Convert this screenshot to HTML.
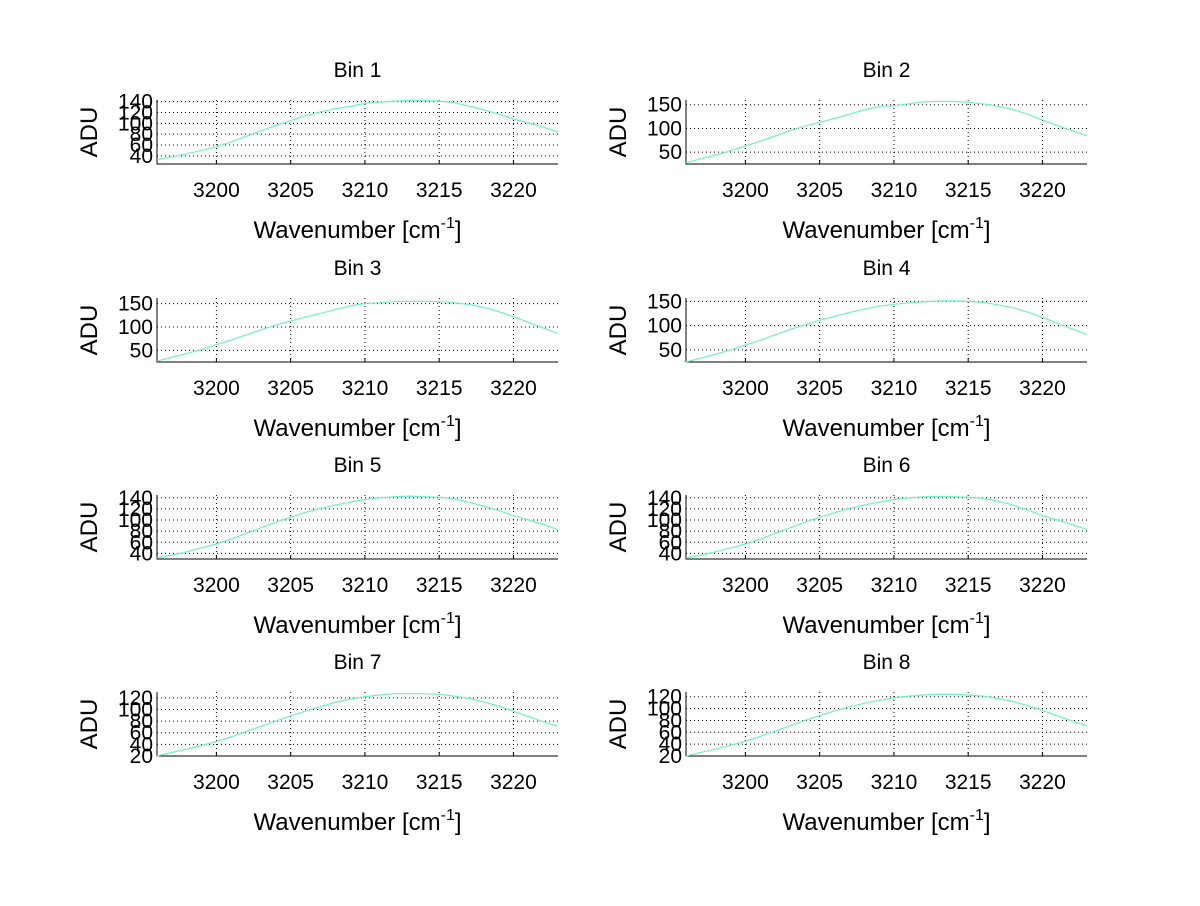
<!DOCTYPE html>
<html><head><meta charset="utf-8"><style>
body{margin:0;background:#fff;}
svg text{font-family:"Liberation Sans",sans-serif;fill:#000;}
</style></head><body>
<svg id="fig" width="1200" height="901" viewBox="0 0 1200 901" xmlns="http://www.w3.org/2000/svg">
<rect width="1200" height="901" fill="#fff"/>
</svg>
<script>
const xs = [3196,3197,3198,3199,3200,3201,3202,3203,3204,3205,3206,3207,3208,3209,3210,3211,3212,3213,3214,3215,3216,3217,3218,3219,3220,3221,3222,3223];
const xTicks = [3200,3205,3210,3215,3220];
const bin1 = [33,38,44,50,57,66,76,86,96,105,114,121,127,131,137,139,141,142,142,141,138,132,125,117,108,101,93,84];
const bin2 = [28,36,44,53,63,73,84,95,105,113,121,130,139,147,148,152,156,157,157,155,152,147,140,130,118,106,95,85];
const bin3 = [27,35,43,52,62,72,83,94,104,113,121,129,137,145,150,152,154,155,155,154,152,148,142,133,122,110,98,86];
const bin4 = [25,33,41,50,60,70,81,92,102,111,119,127,134,140,144,147,149,151,151,150,148,143,137,128,117,105,93,82];
const bin5 = [32,37,43,50,57,66,76,86,96,105,114,121,127,132,137,140,142,143,142,141,138,132,125,117,108,100,92,83];
const bin6 = [32,37,43,50,57,66,76,86,96,105,113,121,127,132,137,140,142,142,142,141,139,134,127,118,108,100,92,83];
const bin7 = [20,26,32,38,45,53,62,71,80,89,97,105,112,118,122,125,127,127,127,126,123,119,113,106,97,88,79,71];
const bin8 = [20,26,32,38,45,53,62,71,80,88,96,103,109,114,118,121,123,124,124,123,121,117,112,105,97,88,79,71];
const bins = [bin1,bin2,bin3,bin4,bin5,bin6,bin7,bin8];
const yLims = [[25,143],[25,160],[25,162],[25,157],[30,145],[30,145],[20,130],[20,128]];
const yTickSets = [[40,60,80,100,120,140],[50,100,150],[50,100,150],[50,100,150],[40,60,80,100,120,140],[40,60,80,100,120,140],[20,40,60,80,100,120],[20,40,60,80,100,120]];

const svg = document.getElementById('fig');
const NS = 'http://www.w3.org/2000/svg';
function mk(tag, attrs, parent){const e=document.createElementNS(NS,tag);for(const k in attrs)e.setAttribute(k,attrs[k]);(parent||svg).appendChild(e);return e;}
const colX=[157,686], rowY=[100,298,495,692], W=401, H=64;
bins.forEach((data,i)=>{
  const x0=colX[i%2], y0=rowY[Math.floor(i/2)];
  const [ymin,ymax]=yLims[i];
  const sx=v=>x0+(v-3196)/(3223-3196)*W;
  const sy=v=>y0+H-(v-ymin)/(ymax-ymin)*H;
  const g=mk('g',{});
  
  
  xTicks.forEach(t=>{
    const l=mk('line',{x1:sx(t),x2:sx(t),y1:y0,y2:y0+H,stroke:'#000','stroke-width':1,'stroke-dasharray':'1,3'},g);
    
    
    const tk=mk('line',{x1:sx(t),x2:sx(t),y1:y0+H,y2:y0+H-4,stroke:'#000'},g);
    
    
    const tx=mk('text',{x:sx(t),y:y0+H+33,'font-size':21,'text-anchor':'middle'},g);
    tx.textContent=t;
    
    
  });
  yTickSets[i].forEach(t=>{
    const l=mk('line',{x1:x0,x2:x0+W,y1:sy(t),y2:sy(t),stroke:'#000','stroke-width':1,'stroke-dasharray':'1,3'},g);
    
    
    const tx=mk('text',{x:x0-4,y:sy(t)+7,'font-size':21,'text-anchor':'end'},g);
    tx.textContent=t;
    
    
  });
  const ax=mk('path',{d:`M${x0},${y0}V${y0+H}H${x0+W}`,fill:'none',stroke:'#000','stroke-width':1},g);
  
  
  const pts=data.map((v,j)=>sx(xs[j]).toFixed(1)+','+sy(v).toFixed(1)).join(' ');
  const pl=mk('polyline',{points:pts,fill:'none',stroke:'#6ff0c4','stroke-width':1.2},g);
  
  
  const ti=mk('text',{x:x0+W/2,y:y0-23,'font-size':21,'text-anchor':'middle'},g);
  ti.textContent='Bin '+(i+1);
  
  
  const yl=mk('text',{x:0,y:0,'font-size':24,'text-anchor':'middle',transform:`translate(${x0-60},${y0+H/2}) rotate(-90)`},g);
  yl.textContent='ADU';
  
  
  const xl=mk('text',{x:x0+W/2,y:y0+H+74,'font-size':24,'text-anchor':'middle'},g);
  xl.innerHTML='Wavenumber [cm<tspan dy="-10" font-size="16">-1</tspan><tspan dy="10">]</tspan>';
  
  
});
</script>
</body></html>
